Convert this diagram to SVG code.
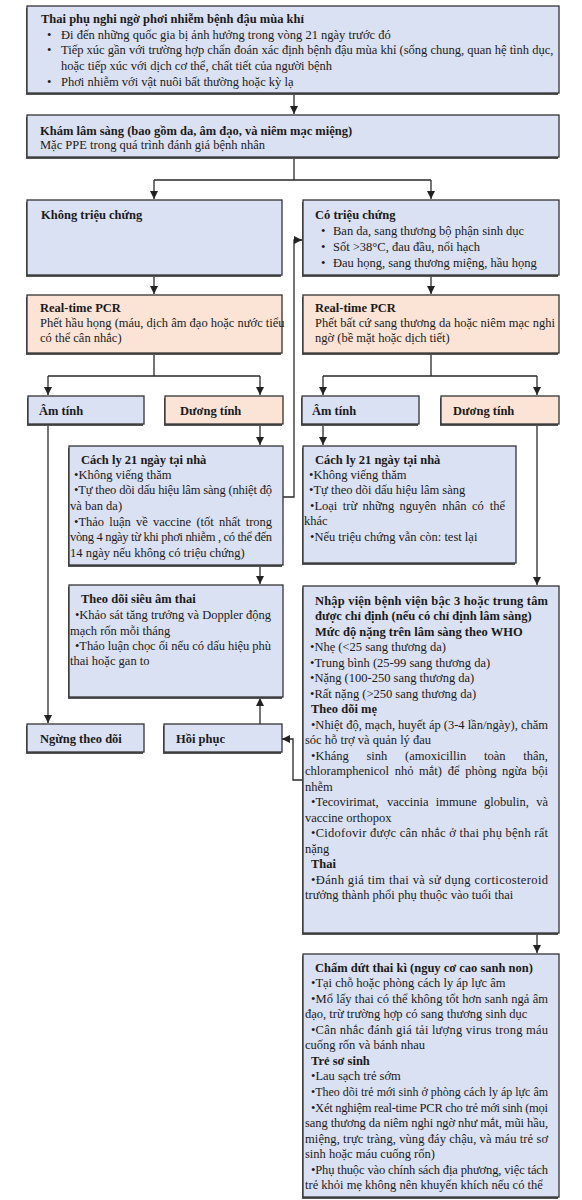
<svg xmlns="http://www.w3.org/2000/svg" width="582" height="1200" viewBox="0 0 582 1200">
<style>
.box{stroke:#333;stroke-width:1.3}
.blue{fill:#dae1f2}
.peach{fill:#fbe4d6}
.sh{fill:#555}
text{font-family:"Liberation Serif","Times New Roman",serif;font-size:12.5px;fill:#1a1a1a}
.b{font-weight:bold}
.c{fill:none;stroke:#2a2a2a;stroke-width:1.3}
</style>
<defs>
<marker id="ah" viewBox="0 0 10 10" refX="10" refY="5" markerWidth="8" markerHeight="8" markerUnits="userSpaceOnUse" orient="auto"><path d="M0,0 L10,5 L0,10 z" fill="#222"/></marker>
</defs>
<rect width="582" height="1200" fill="#fff"/>

<g id="connectors">
<path class="c" d="M294,93 V114" marker-end="url(#ah)"/>
<path class="c" d="M294,157 V180 M154,180 H431"/>
<path class="c" d="M154,180 V199" marker-end="url(#ah)"/>
<path class="c" d="M431,180 V199" marker-end="url(#ah)"/>
<path class="c" d="M154,275 V294" marker-end="url(#ah)"/>
<path class="c" d="M431,275 V294" marker-end="url(#ah)"/>
<path class="c" d="M154,353 V376 M48,376 H260"/>
<path class="c" d="M48,376 V395" marker-end="url(#ah)"/>
<path class="c" d="M260,376 V395" marker-end="url(#ah)"/>
<path class="c" d="M431,353 V376 M323,376 H537"/>
<path class="c" d="M323,376 V395" marker-end="url(#ah)"/>
<path class="c" d="M537,376 V395" marker-end="url(#ah)"/>
<path class="c" d="M48,424 V723" marker-end="url(#ah)"/>
<path class="c" d="M260,424 V445" marker-end="url(#ah)"/>
<path class="c" d="M283,497 H294 V240 H302" marker-end="url(#ah)"/>
<path class="c" d="M323,424 V445" marker-end="url(#ah)"/>
<path class="c" d="M537,424 V585" marker-end="url(#ah)"/>
<path class="c" d="M260,565 V584" marker-end="url(#ah)"/>
<path class="c" d="M260,724 V698" marker-end="url(#ah)"/>
<path class="c" d="M303,780 H293 V739 H282" marker-end="url(#ah)"/>
<path class="c" d="M537,933 V953" marker-end="url(#ah)"/>
</g>

<g id="n-suspect">
<rect class="sh" x="26" y="8" width="532" height="87"/>
<rect class="box blue" x="27" y="6" width="532" height="87"/>
<text class="b" x="41" y="23">Thai phụ nghi ngờ phơi nhiễm bệnh đậu mùa khỉ</text>
<text x="47" y="39">•</text><text x="61" y="39">Đi đến những quốc gia bị ảnh hưởng trong vòng 21 ngày trước đó</text>
<text x="47" y="54">•</text><text x="61" y="54">Tiếp xúc gần với trường hợp chẩn đoán xác định bệnh đậu mùa khỉ (sống chung, quan hệ tình dục,</text>
<text x="61" y="70">hoặc tiếp xúc với dịch cơ thể, chất tiết của người bệnh</text>
<text x="47" y="86">•</text><text x="61" y="86">Phơi nhiễm với vật nuôi bất thường hoặc kỳ lạ</text>
</g>

<g id="n-exam">
<rect class="sh" x="26" y="117" width="532" height="42"/>
<rect class="box blue" x="27" y="115" width="532" height="42"/>
<text class="b" x="40" y="135">Khám lâm sàng (bao gồm da, âm đạo, và niêm mạc miệng)</text>
<text x="40" y="149">Mặc PPE trong quá trình đánh giá bệnh nhân</text>
</g>

<g id="n-asym">
<rect class="sh" x="26" y="202" width="255" height="75"/>
<rect class="box blue" x="27" y="200" width="255" height="75"/>
<text class="b" x="41" y="219">Không triệu chứng</text>
</g>

<g id="n-sym">
<rect class="sh" x="302" y="202" width="256" height="75"/>
<rect class="box blue" x="303" y="200" width="256" height="75"/>
<text class="b" x="315" y="219">Có triệu chứng</text>
<text x="321" y="235">•</text><text x="333" y="235">Ban da, sang thương bộ phận sinh dục</text>
<text x="321" y="251">•</text><text x="333" y="251">Sốt &gt;38°C, đau đầu, nổi hạch</text>
<text x="321" y="267">•</text><text x="333" y="267">Đau họng, sang thương miệng, hầu họng</text>
</g>

<g id="n-pcr-left">
<rect class="sh" x="26" y="297" width="255" height="58"/>
<rect class="box peach" x="27" y="295" width="255" height="58"/>
<text class="b" x="40" y="312">Real-time PCR</text>
<text x="40" y="327">Phết hầu họng (máu, dịch âm đạo hoặc nước tiểu</text>
<text x="40" y="342">có thể cân nhắc)</text>
</g>

<g id="n-pcr-right">
<rect class="sh" x="302" y="297" width="256" height="58"/>
<rect class="box peach" x="303" y="295" width="256" height="58"/>
<text class="b" x="315" y="312">Real-time PCR</text>
<text x="315" y="327">Phết bất cứ sang thương da hoặc niêm mạc nghi</text>
<text x="315" y="342">ngờ (bề mặt hoặc dịch tiết)</text>
</g>

<g id="n-neg-left">
<rect class="sh" x="27" y="398" width="116" height="28"/>
<rect class="box blue" x="28" y="396" width="116" height="28"/>
<text class="b" x="39" y="415">Âm tính</text>
</g>
<g id="n-pos-left">
<rect class="sh" x="164" y="398" width="118" height="28"/>
<rect class="box peach" x="165" y="396" width="118" height="28"/>
<text class="b" x="180" y="415">Dương tính</text>
</g>
<g id="n-neg-right">
<rect class="sh" x="301" y="398" width="117" height="28"/>
<rect class="box blue" x="302" y="396" width="117" height="28"/>
<text class="b" x="312" y="415">Âm tính</text>
</g>
<g id="n-pos-right">
<rect class="sh" x="440" y="398" width="118" height="28"/>
<rect class="box peach" x="441" y="396" width="118" height="28"/>
<text class="b" x="453" y="415">Dương tính</text>
</g>

<g id="n-iso-left">
<rect class="sh" x="68" y="448" width="214" height="119"/>
<rect class="box blue" x="69" y="446" width="214" height="119"/>
<text class="b" x="81" y="464">Cách ly 21 ngày tại nhà</text>
<text x="74" y="479">•Không viếng thăm</text>
<text x="74" y="494" textLength="198" lengthAdjust="spacing">•Tự theo dõi dấu hiệu lâm sàng (nhiệt độ</text>
<text x="70" y="510">và ban da)</text>
<text y="526"><tspan x="74">•Thảo</tspan> <tspan x="109.3">luận</tspan> <tspan x="136">về</tspan> <tspan x="153">vaccine</tspan> <tspan x="196.4">(tốt</tspan> <tspan x="219">nhất</tspan> <tspan x="245.7">trong</tspan></text>
<text x="70" y="541" textLength="202" lengthAdjust="spacing">vòng 4 ngày từ khi phơi nhiễm , có thể đến</text>
<text x="70" y="557">14 ngày nếu không có triệu chứng)</text>
</g>

<g id="n-iso-right">
<rect class="sh" x="302" y="448" width="213" height="117"/>
<rect class="box blue" x="303" y="446" width="213" height="117"/>
<text class="b" x="315" y="464">Cách ly 21 ngày tại nhà</text>
<text x="309" y="479">•Không viếng thăm</text>
<text x="309" y="494">•Tự theo dõi dấu hiệu lâm sàng</text>
<text y="510"><tspan x="310">•Loại</tspan> <tspan x="342.8">trừ</tspan> <tspan x="362.6">những</tspan> <tspan x="399.4">nguyên</tspan> <tspan x="442.2">nhân</tspan> <tspan x="472">có</tspan> <tspan x="489.8">thể</tspan></text>
<text x="304" y="525">khác</text>
<text x="310" y="541">•Nếu triệu chứng vẫn còn: test lại</text>
</g>

<g id="n-ultra">
<rect class="sh" x="68" y="587" width="214" height="112"/>
<rect class="box blue" x="69" y="585" width="214" height="112"/>
<text class="b" x="81" y="603">Theo dõi siêu âm thai</text>
<text x="75" y="619" textLength="196" lengthAdjust="spacing">•Khảo sát tăng trưởng và Doppler động</text>
<text x="70" y="635">mạch rốn mỗi tháng</text>
<text x="75" y="650" textLength="196" lengthAdjust="spacing">•Thảo luận chọc ối nếu có dấu hiệu phù</text>
<text x="70" y="665">thai hoặc gan to</text>
</g>

<g id="n-stop">
<rect class="sh" x="26" y="726" width="117" height="28"/>
<rect class="box blue" x="27" y="724" width="117" height="28"/>
<text class="b" x="40" y="743">Ngừng theo dõi</text>
</g>

<g id="n-recover">
<rect class="sh" x="163" y="726" width="118" height="28"/>
<rect class="box blue" x="164" y="724" width="118" height="28"/>
<text class="b" x="176" y="743">Hồi phục</text>
</g>

<g id="n-hospital">
<rect class="sh" x="302" y="588" width="256" height="347"/>
<rect class="box blue" x="303" y="586" width="256" height="347"/>
<text class="b" x="315" y="605" textLength="233" lengthAdjust="spacing">Nhập viện bệnh viện bậc 3 hoặc trung tâm</text>
<text class="b" x="315" y="620">được chỉ định (nếu có chỉ định lâm sàng)</text>
<text class="b" x="315" y="636">Mức độ nặng trên lâm sàng theo WHO</text>
<text x="310" y="651">•Nhẹ (&lt;25 sang thương da)</text>
<text x="310" y="667">•Trung bình (25-99 sang thương da)</text>
<text x="310" y="682">•Nặng (100-250 sang thương da)</text>
<text x="310" y="698">•Rất nặng (&gt;250 sang thương da)</text>
<text class="b" x="311" y="713">Theo dõi mẹ</text>
<text x="311" y="729" textLength="237" lengthAdjust="spacing">•Nhiệt độ, mạch, huyết áp (3-4 lần/ngày), chăm</text>
<text x="305" y="744">sóc hỗ trợ và quản lý đau</text>
<text y="760"><tspan x="311">•Kháng</tspan> <tspan x="366.5">sinh</tspan> <tspan x="405.1">(amoxicillin</tspan> <tspan x="484">toàn</tspan> <tspan x="523.3">thân,</tspan></text>
<text y="775"><tspan x="305">chloramphenicol</tspan> <tspan x="394.7">nhỏ</tspan> <tspan x="419.1">mắt)</tspan> <tspan x="447.7">để</tspan> <tspan x="465.2">phòng</tspan> <tspan x="502.1">ngừa</tspan> <tspan x="532.1">bội</tspan></text>
<text x="305" y="791">nhễm</text>
<text y="806"><tspan x="311">•Tecovirimat,</tspan> <tspan x="386.9">vaccinia</tspan> <tspan x="435.8">immune</tspan> <tspan x="484.1">globulin,</tspan> <tspan x="536.2">và</tspan></text>
<text x="305" y="822">vaccine orthopox</text>
<text x="311" y="837" textLength="237" lengthAdjust="spacing">•Cidofovir được cân nhắc ở thai phụ bệnh rất</text>
<text x="305" y="853">nặng</text>
<text class="b" x="311" y="868">Thai</text>
<text x="311" y="884" textLength="237" lengthAdjust="spacing">•Đánh giá tim thai và sử dụng corticosteroid</text>
<text x="305" y="899">trưởng thành phổi phụ thuộc vào tuổi thai</text>
</g>

<g id="n-delivery">
<rect class="sh" x="302" y="956" width="256" height="243"/>
<rect class="box blue" x="303" y="954" width="256" height="243"/>
<text class="b" x="315" y="972">Chấm dứt thai kì (nguy cơ cao sanh non)</text>
<text x="311" y="987">•Tại chỗ hoặc phòng cách ly áp lực âm</text>
<text x="311" y="1003" textLength="237" lengthAdjust="spacing">•Mổ lấy thai có thể không tốt hơn sanh ngả âm</text>
<text x="305" y="1018">đạo, trừ trường hợp có sang thương sinh dục</text>
<text x="311" y="1034" textLength="237" lengthAdjust="spacing">•Cân nhắc đánh giá tải lượng virus trong máu</text>
<text x="305" y="1049">cuống rốn và bánh nhau</text>
<text class="b" x="311" y="1065">Trẻ sơ sinh</text>
<text x="311" y="1080">•Lau sạch trẻ sớm</text>
<text x="311" y="1096" textLength="237" lengthAdjust="spacingAndGlyphs">•Theo dõi trẻ mới sinh ở phòng cách ly áp lực âm</text>
<text x="311" y="1112" textLength="237" lengthAdjust="spacing">•Xét nghiệm real-time PCR cho trẻ mới sinh (mọi</text>
<text x="305" y="1127" textLength="243" lengthAdjust="spacing">sang thương da niêm nghi ngờ như mắt, mũi hầu,</text>
<text x="305" y="1143" textLength="243" lengthAdjust="spacing">miệng, trực tràng, vùng đáy chậu, và máu trẻ sơ</text>
<text x="305" y="1158">sinh hoặc máu cuống rốn)</text>
<text x="311" y="1174" textLength="237" lengthAdjust="spacing">•Phụ thuộc vào chính sách địa phương, việc tách</text>
<text x="305" y="1189">trẻ khỏi mẹ không nên khuyến khích nếu có thể</text>
</g>
</svg>
